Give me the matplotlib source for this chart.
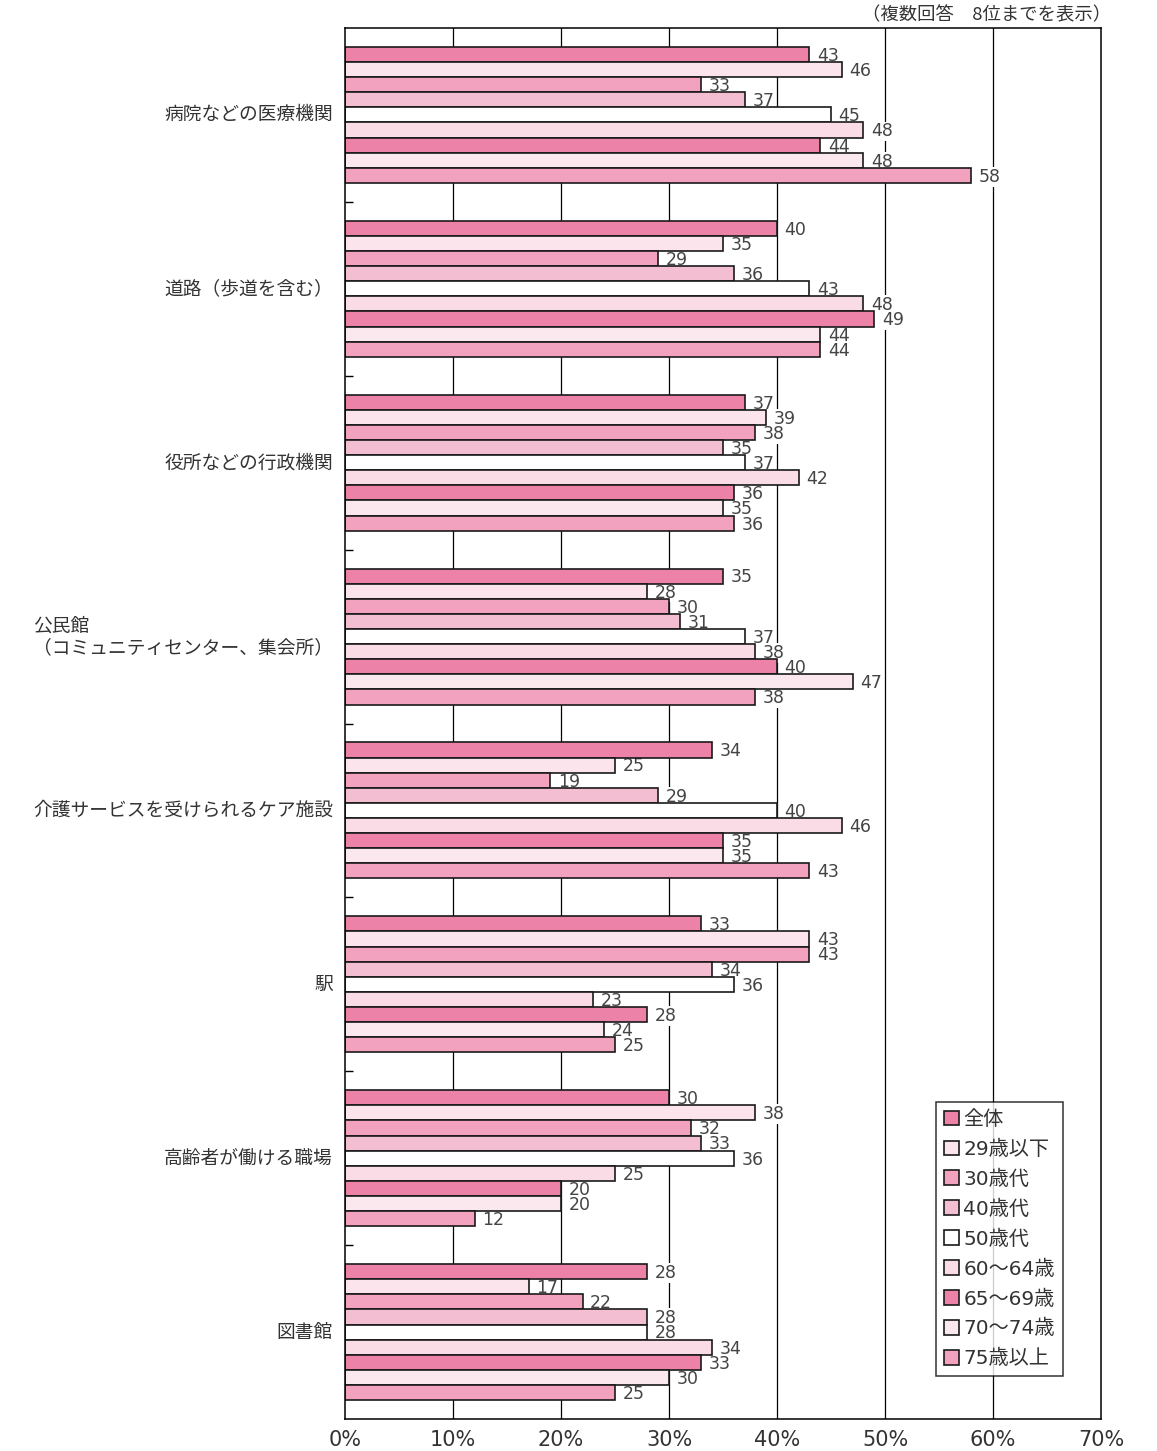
import matplotlib
matplotlib.use("Agg")
import matplotlib.pyplot as plt
from matplotlib.patches import Patch
import numpy as np

plt.rcParams['font.family'] = ['Noto Sans CJK JP', 'DejaVu Sans']
NUM_FONT = ['DejaVu Sans', 'Noto Sans CJK JP']

categories = [
    "病院などの医療機関",
    "道路（歩道を含む）",
    "役所などの行政機関",
    "公民館\n（コミュニティセンター、集会所）",
    "介護サービスを受けられるケア施設",
    "駅",
    "高齢者が働ける職場",
    "図書館",
]

series_names = ["全体", "29歳以下", "30歳代", "40歳代", "50歳代",
                "60〜64歳", "65〜69歳", "70〜74歳", "75歳以上"]

all_ages   = [43, 40, 37, 35, 34, 33, 30, 28]
under_29   = [46, 35, 39, 28, 25, 43, 38, 17]
age_30s    = [33, 29, 38, 30, 19, 43, 32, 22]
age_40s    = [37, 36, 35, 31, 29, 34, 33, 28]
age_50s    = [45, 43, 37, 37, 40, 36, 36, 28]
age_60_64  = [48, 48, 42, 38, 46, 23, 25, 34]
age_65_69  = [44, 49, 36, 40, 35, 28, 20, 33]
age_70_74  = [48, 44, 35, 47, 35, 24, 20, 30]
over_75    = [58, 44, 36, 38, 43, 25, 12, 25]

series_values = [all_ages, under_29, age_30s, age_40s, age_50s,
                 age_60_64, age_65_69, age_70_74, over_75]

colors = ["#EC82A7", "#FBE4EC", "#F2A2BE", "#F4BED2", "#FFFFFF",
          "#FADCE6", "#EC82A7", "#FBE7EE", "#F2A2BE"]

xticks = [0, 10, 20, 30, 40, 50, 60, 70]

W, H = 1157, 1451
fig = plt.figure(figsize=(W / 100, H / 100), dpi=100)
ax = fig.add_axes([345 / W, 1 - 1419 / H, (1101 - 345) / W, (1419 - 28) / H])

n_series = len(series_values)
pitch = 1 / 11.5
for j, (vals, col) in enumerate(zip(series_values, colors)):
    ys = np.arange(len(categories)) + 0.5 + (j - (n_series - 1) / 2) * pitch
    ax.barh(ys, vals, height=pitch, color=col, edgecolor="#1a1a1a",
            linewidth=1.2, zorder=3)
    for y, v in zip(ys, vals):
        # labels sit above the grid (white backing hides the line) but below bars
        ax.annotate(str(v), (v, y), xytext=(5.5, -1), textcoords="offset points",
                    ha="left", va="center", fontsize=12.5, color="#444444",
                    family=NUM_FONT, zorder=2,
                    bbox=dict(boxstyle="square,pad=0.05", fc="white", ec="none"))

ax.set_xlim(0, 70)
ax.set_ylim(len(categories), 0)
ax.set_xticks(xticks)
ax.set_xticklabels([f"{t}%" for t in xticks], fontsize=15, color="#333333",
                   family=NUM_FONT)
ax.tick_params(axis="x", length=0, pad=8)

# separators between groups on the left spine
ax.set_yticks(np.arange(1, len(categories)))
ax.set_yticklabels([])
ax.tick_params(axis="y", direction="in", length=6, width=1, color="black")

for x in xticks[1:-1]:
    ax.axvline(x, color="black", linewidth=0.9, zorder=1)

for s in ax.spines.values():
    s.set_linewidth(1.1)
    s.set_color("black")
    s.set_zorder(5)

for i, cat in enumerate(categories):
    ax.text(-0.016, i + 0.5, cat, transform=ax.get_yaxis_transform(),
            ha="right", va="center", multialignment="left", fontsize=13.5,
            color="#333333", linespacing=1.05)

fig.text(1111 / W, 1 - 15 / H, "（複数回答　8位までを表示）", ha="right",
         va="center", fontsize=13.2, color="#333333")

handles = [Patch(facecolor=c, edgecolor="#1a1a1a", linewidth=1.2) for c in colors]
leg = fig.legend(handles, series_names, loc="upper right",
                 bbox_to_anchor=(1063 / W, 1 - 1102 / H),
                 prop={'family': NUM_FONT, 'size': 14.5},
                 frameon=True, fancybox=False, edgecolor="black",
                 handlelength=0.75, handleheight=0.75, handletextpad=0.2,
                 labelspacing=0.53, borderpad=0.4, borderaxespad=0)
leg.get_frame().set_linewidth(1.1)
for t in leg.get_texts():
    t.set_color("#333333")

fig.savefig("out.png", dpi=100)
